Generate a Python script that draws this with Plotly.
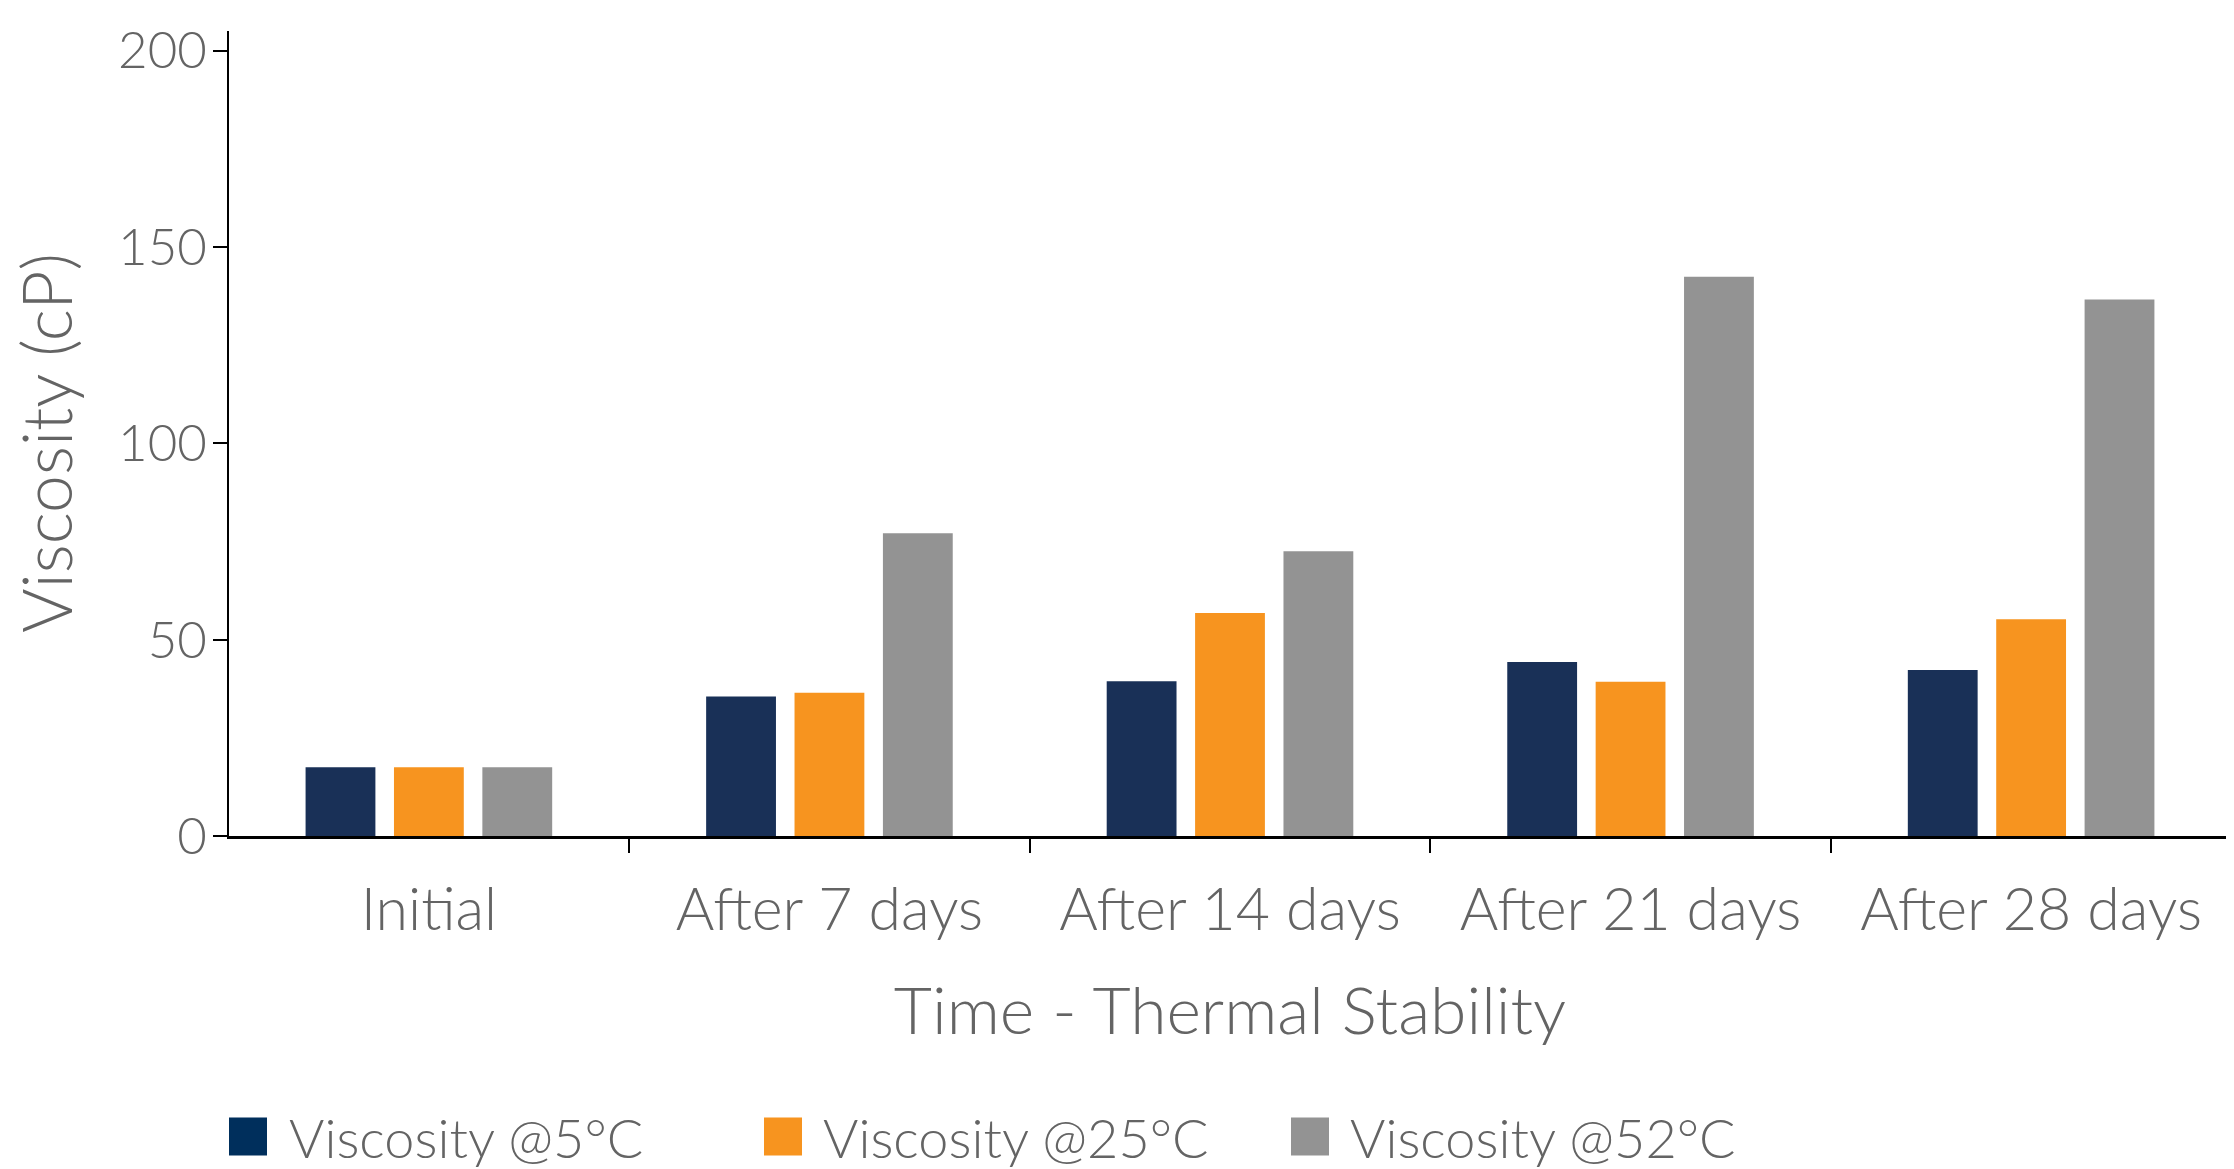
import plotly.graph_objects as go

categories = ["Initial", "After 7 days", "After 14 days", "After 21 days", "After 28 days"]
visc_5C = [17.5, 35.5, 39.4, 44.3, 42.3]
visc_25C = [17.5, 36.5, 56.8, 39.3, 55.2]
visc_52C = [17.5, 77.1, 72.5, 142.4, 136.6]
series_names = ["Viscosity @5°C", "Viscosity @25°C", "Viscosity @52°C"]
y_ticks = [0, 50, 100, 150, 200]

bar_colors = ["#193057", "#f7941f", "#939393"]
legend_colors = ["#002f5c", "#f7941f", "#939393"]
TEXT = "#646464"
FONT = "Lato"
WEIGHT = 300

# figure is offset by the page's 8px body margin; layout numbers below are in figure px
W, H = 2234, 1169
ML, MR, MT, MB = 221, 11, 19, 341
PW = W - ML - MR
PH = H - MT - MB
BASE = MT + PH

fig = go.Figure()
for name, vals, col in zip(series_names, [visc_5C, visc_25C, visc_52C], bar_colors):
    fig.add_trace(go.Bar(x=categories, y=vals, name=name, marker=dict(color=col, line=dict(width=0)),
                         showlegend=False))

# manual legend (large square swatches)
legend_px = [(221, 279), (756, 813), (1283, 1340)]
shapes = []
annotations = []
for (sx, tx), name, col in zip(legend_px, series_names, legend_colors):
    shapes.append(dict(type="rect", xref="paper", yref="paper",
                       x0=(sx - ML) / PW, x1=(sx + 38 - ML) / PW,
                       y0=(BASE - 1149) / PH, y1=(BASE - 1111) / PH,
                       fillcolor=col, line=dict(width=0)))
    annotations.append(dict(xref="paper", yref="paper", x=(tx - ML) / PW, y=(BASE - 1131) / PH,
                            xanchor="left", yanchor="middle", text=name, showarrow=False,
                            font=dict(family=FONT, size=54, color=TEXT, weight=WEIGHT)))

# y-axis title as rotated annotation
annotations.append(dict(xref="paper", yref="paper", x=(38 - ML) / PW, y=(BASE - 433) / PH,
                        xanchor="center", yanchor="middle", textangle=-90, text="Viscosity (cP)",
                        showarrow=False, borderpad=0,
                        font=dict(family=FONT, size=68, color=TEXT, weight=WEIGHT)))

fig.update_layout(
    width=W, height=H,
    margin=dict(l=ML, r=MR, t=MT, b=MB, pad=0),
    paper_bgcolor="white", plot_bgcolor="white",
    barmode="group", bargap=0.338, bargroupgap=0.21,
    font=dict(family=FONT, color=TEXT, weight=WEIGHT),
    shapes=shapes, annotations=annotations,
    showlegend=False,
)
fig.update_xaxes(
    type="category", range=[-0.499, 4.499],
    tickson="boundaries", ticks="outside", ticklen=14, tickwidth=2, tickcolor="black",
    showline=True, linecolor="black", linewidth=3, showgrid=False, zeroline=False,
    tickfont=dict(family=FONT, size=59, color=TEXT, weight=WEIGHT), ticklabelstandoff=20,
    title=dict(text="Time - Thermal Stability", font=dict(family=FONT, size=66, color=TEXT, weight=WEIGHT),
               standoff=47),
)
fig.update_yaxes(
    range=[0, 205], tickvals=y_ticks, ticks="outside", ticklen=14, tickwidth=2, tickcolor="black",
    showline=True, linecolor="black", linewidth=2, showgrid=False, zeroline=False,
    tickfont=dict(family=FONT, size=51, color=TEXT, weight=WEIGHT), ticklabelstandoff=-4,
)

fig.write_html("out.html")
